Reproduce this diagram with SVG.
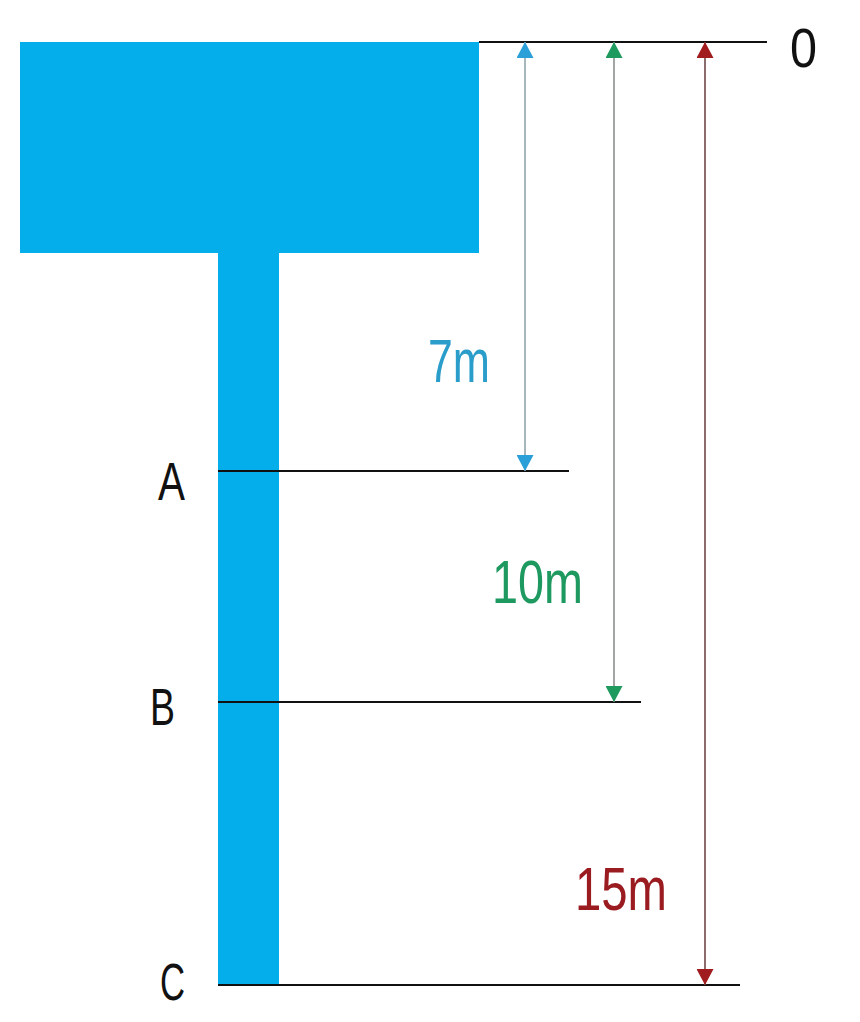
<svg xmlns="http://www.w3.org/2000/svg" width="860" height="1022" viewBox="0 0 860 1022">
<style>
.lvl{stroke:#111;stroke-width:2;fill:none}
.lbl{font-family:"Liberation Sans",Arial,sans-serif;fill:#111}
.dim{font-family:"Liberation Sans",Arial,sans-serif;font-size:61px}
.water{fill:#04aeeb}
</style>
<defs>
<marker id="hb" viewBox="0 0 16 17" refX="16" refY="8.5" markerWidth="16" markerHeight="17" markerUnits="userSpaceOnUse" orient="auto-start-reverse"><path d="M0,0 L16,8.5 L0,17 z" fill="#2a9fd8"/></marker>
<marker id="hg" viewBox="0 0 16 17" refX="16" refY="8.5" markerWidth="16" markerHeight="17" markerUnits="userSpaceOnUse" orient="auto-start-reverse"><path d="M0,0 L16,8.5 L0,17 z" fill="#1e9a5e"/></marker>
<marker id="hr" viewBox="0 0 16 17" refX="16" refY="8.5" markerWidth="16" markerHeight="17" markerUnits="userSpaceOnUse" orient="auto-start-reverse"><path d="M0,0 L16,8.5 L0,17 z" fill="#a01c1e"/></marker>
</defs>
<rect width="860" height="1022" fill="#fff"/>
<g id="tank">
<rect class="water" x="20" y="42" width="459" height="211"/>
<rect class="water" x="218" y="250" width="61" height="735"/>
</g>
<g id="levels">
<line class="lvl" x1="479" y1="42" x2="767" y2="42"/>
<line class="lvl" x1="218" y1="471" x2="569" y2="471"/>
<line class="lvl" x1="218" y1="702" x2="641" y2="702"/>
<line class="lvl" x1="218" y1="985" x2="740" y2="985"/>
</g>
<g id="connectors">
<line x1="525" y1="42" x2="525" y2="471" stroke="#8fa4ad" stroke-width="1.6" marker-start="url(#hb)" marker-end="url(#hb)"/>
<line x1="614" y1="42" x2="614" y2="702" stroke="#8a8f8c" stroke-width="1.6" marker-start="url(#hg)" marker-end="url(#hg)"/>
<line x1="705" y1="42" x2="705" y2="985" stroke="#6e4848" stroke-width="1.6" marker-start="url(#hr)" marker-end="url(#hr)"/>
</g>
<g id="labels">
<text class="lbl" x="790" y="67" font-size="55" textLength="27" lengthAdjust="spacingAndGlyphs">0</text>
<text class="lbl" x="158" y="500" font-size="54" textLength="27" lengthAdjust="spacingAndGlyphs">A</text>
<text class="lbl" x="150" y="725" font-size="52" textLength="25" lengthAdjust="spacingAndGlyphs">B</text>
<text class="lbl" x="160" y="1000" font-size="52" textLength="25" lengthAdjust="spacingAndGlyphs">C</text>
<text class="dim" x="428" y="382" fill="#2b9dca" textLength="62" lengthAdjust="spacingAndGlyphs">7m</text>
<text class="dim" x="492" y="603" fill="#1e9960" textLength="91" lengthAdjust="spacingAndGlyphs">10m</text>
<text class="dim" x="575" y="910" fill="#9a1c20" textLength="92" lengthAdjust="spacingAndGlyphs">15m</text>
</g>
</svg>
